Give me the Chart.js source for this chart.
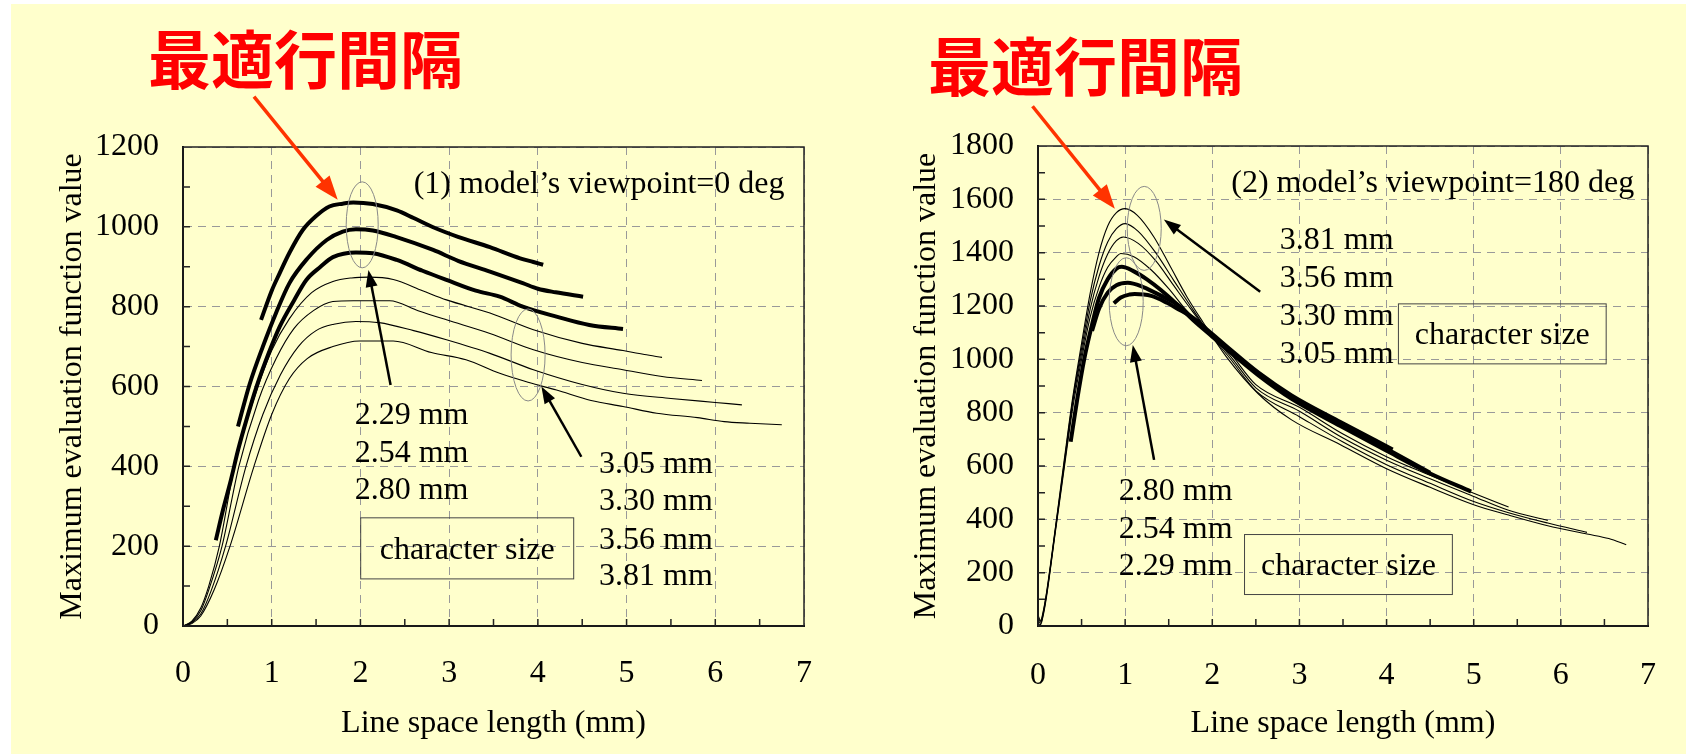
<!DOCTYPE html>
<html>
<head>
<meta charset="utf-8">
<script src="https://cdn.jsdelivr.net/npm/chart.js@4/dist/chart.umd.min.js"></script>
<style>
body { margin: 0; background: #fff; width: 1686px; height: 754px; position: relative; overflow: hidden; }
#bg { position: absolute; left: 11px; top: 4px; width: 1675px; height: 750px; background: #ffffcc; }
canvas { position: absolute; top: 0; }
.head { position: absolute; font: bold 63px "Noto Sans CJK JP"; color: #ff0000; line-height: 1; white-space: nowrap; }
</style>
</head>
<body>
<div id="bg"></div>
<canvas id="deg0" width="843" height="754" style="left:0"></canvas>
<canvas id="deg180" width="843" height="754" style="left:843px"></canvas>
<div class="head" style="left:148px;top:24px">最適行間隔</div>
<div class="head" style="left:928px;top:31px">最適行間隔</div>
<script>
// character sizes, thick lines = the three small sizes
const sizes = ['2.29 mm', '2.54 mm', '2.80 mm', '3.05 mm', '3.30 mm', '3.56 mm', '3.81 mm'];

// (1) viewpoint 0 deg : [line space (mm), max evaluation value]
const deg0_229 = [[0.88,767],[1.0,840],[1.09,884],[1.2,935],[1.35,992],[1.5,1027],[1.65,1051],[1.8,1058],[1.92,1061],[2.14,1057],[2.41,1041],[2.6,1022],[2.82,999],[3.1,975],[3.46,949],[3.8,921],[3.95,912],[4.06,905]];
const deg0_254 = [[0.62,500],[0.75,605],[0.9,700],[1.05,785],[1.2,859],[1.4,920],[1.62,967],[1.8,988],[1.95,994],[2.14,991],[2.4,975],[2.82,942],[3.1,915],[3.46,888],[3.83,859],[4.0,845],[4.2,836],[4.51,825]];
const deg0_280 = [[0.37,215],[0.45,290],[0.54,366],[0.62,440],[0.72,520],[0.83,600],[0.96,680],[1.09,750],[1.25,815],[1.39,867],[1.55,900],[1.69,924],[1.95,936],[2.14,934],[2.41,917],[2.7,890],[2.97,867],[3.3,840],[3.57,825],[3.83,800],[4.21,775],[4.58,754],[4.96,744]];
const deg0_305 = [[0,0],[0.1,12],[0.2,45],[0.29,100],[0.41,200],[0.58,400],[0.8,570],[1.0,690],[1.2,770],[1.45,835],[1.69,863],[1.9,872],[2.1,874],[2.37,868],[2.7,840],[2.97,817],[3.46,784],[3.95,742],[4.5,708],[4.96,690],[5.2,680],[5.4,673]];
const deg0_330 = [[0,0],[0.1,10],[0.2,38],[0.29,90],[0.44,200],[0.63,400],[0.85,565],[1.05,670],[1.25,745],[1.47,790],[1.69,813],[1.92,815],[2.33,815],[2.65,790],[2.97,767],[3.46,733],[3.95,692],[4.5,660],[4.96,642],[5.4,625],[5.85,615]];
const deg0_356 = [[0,0],[0.1,8],[0.2,30],[0.32,90],[0.48,200],[0.71,400],[0.9,530],[1.1,630],[1.3,700],[1.5,740],[1.7,756],[1.95,763],[2.21,760],[2.6,740],[2.97,717],[3.46,683],[3.95,642],[4.5,605],[4.96,583],[5.5,570],[6.0,560],[6.3,554]];
const deg0_381 = [[0,0],[0.1,6],[0.2,25],[0.35,90],[0.53,200],[0.8,400],[1.0,530],[1.2,620],[1.4,670],[1.69,700],[1.99,714],[2.37,714],[2.8,685],[3.19,667],[3.57,633],[3.9,610],[4.21,591],[4.6,565],[4.96,550],[5.34,533],[5.8,522],[6.1,512],[6.39,508],[6.75,504]];

// (2) viewpoint 180 deg
const deg180_229 = [[0.87,1210],[0.95,1232],[1.05,1243],[1.11,1245],[1.3,1238],[1.48,1212],[1.6,1190],[1.78,1155],[2.0,1095],[2.16,1050],[2.53,950],[2.91,865],[3.47,765],[4.07,662]];
const deg180_254 = [[0.62,1107],[0.7,1190],[0.8,1250],[0.9,1278],[1.03,1287],[1.2,1272],[1.45,1232],[1.6,1205],[1.78,1152],[2.0,1090],[2.16,1045],[2.53,945],[2.91,858],[3.47,757],[4.0,665],[4.5,575]];
const deg180_280 = [[0.375,691],[0.45,850],[0.53,1000],[0.62,1130],[0.7,1230],[0.8,1300],[0.9,1340],[0.96,1347],[1.1,1330],[1.25,1300],[1.41,1260],[1.6,1205],[1.78,1147],[2.0,1085],[2.16,1040],[2.53,940],[2.91,852],[3.47,750],[4.0,657],[4.5,572],[4.97,504]];
const deg180_305 = [[0,10],[0.03,5],[0.06,40],[0.1,115],[0.2,355],[0.3,590],[0.4,820],[0.5,1000],[0.6,1160],[0.7,1270],[0.8,1345],[0.9,1385],[0.95,1397],[1.1,1385],[1.3,1335],[1.5,1265],[1.7,1185],[1.95,1105],[2.2,1025],[2.5,905],[3.0,820],[3.5,720],[4.0,635],[4.5,565],[5.0,498],[5.4,446]];
const deg180_330 = [[0,20],[0.03,10],[0.06,45],[0.1,120],[0.2,360],[0.3,600],[0.4,840],[0.5,1020],[0.6,1190],[0.7,1310],[0.8,1395],[0.9,1445],[0.98,1459],[1.15,1435],[1.35,1370],[1.55,1280],[1.75,1190],[1.95,1105],[2.2,1015],[2.5,893],[3.0,805],[3.5,705],[4.0,622],[4.5,552],[5.0,486],[5.4,434],[5.85,396]];
const deg180_356 = [[0,30],[0.03,15],[0.06,50],[0.1,125],[0.2,365],[0.3,610],[0.4,850],[0.5,1040],[0.6,1220],[0.7,1350],[0.8,1440],[0.9,1490],[1.0,1509],[1.15,1480],[1.35,1400],[1.55,1300],[1.75,1200],[1.95,1105],[2.2,1005],[2.5,882],[3.0,785],[3.5,690],[4.0,605],[4.5,535],[5.0,467],[5.4,425],[5.85,386],[6.3,351]];
const deg180_381 = [[0,40],[0.03,20],[0.06,55],[0.1,130],[0.2,370],[0.3,620],[0.4,860],[0.5,1060],[0.6,1250],[0.7,1400],[0.8,1500],[0.9,1550],[1.0,1565],[1.14,1540],[1.33,1459],[1.52,1347],[1.71,1234],[1.89,1141],[2.16,1010],[2.53,870],[2.91,773],[3.47,680],[4.0,590],[4.5,520],[5.0,455],[5.4,416],[5.85,376],[6.3,345],[6.55,328],[6.75,305]];

const serif = 'Liberation Serif';
const fs = 32;
Chart.defaults.font.family = serif;
Chart.defaults.color = '#000';

function arrow(ctx, x1, y1, x2, y2, color, width, len, half) {
    const a = Math.atan2(y2 - y1, x2 - x1);
    ctx.strokeStyle = color; ctx.fillStyle = color; ctx.lineWidth = width;
    ctx.beginPath();
    ctx.moveTo(x1, y1);
    ctx.lineTo(x2 - Math.cos(a) * len * 0.8, y2 - Math.sin(a) * len * 0.8);
    ctx.stroke();
    ctx.beginPath();
    ctx.moveTo(x2, y2);
    ctx.lineTo(x2 - Math.cos(a) * len - Math.sin(a) * half, y2 - Math.sin(a) * len + Math.cos(a) * half);
    ctx.lineTo(x2 - Math.cos(a) * len + Math.sin(a) * half, y2 - Math.sin(a) * len - Math.cos(a) * half);
    ctx.closePath();
    ctx.fill();
}

// frame, minor ticks and the notes on the plot
const decorate = {
    id: 'decorate',
    afterDatasetsDraw(chart, args, opts) {
        const { ctx, chartArea: a, scales: { x, y } } = chart;
        const px = v => x.getPixelForValue(v), py = v => y.getPixelForValue(v);
        ctx.save();
        ctx.strokeStyle = '#222'; ctx.lineWidth = 1.5;
        ctx.strokeRect(a.left, a.top, a.right - a.left, a.bottom - a.top);
        ctx.beginPath();
        for (let v = 0.5; v < x.max; v += 0.5) { ctx.moveTo(px(v), a.bottom); ctx.lineTo(px(v), a.bottom - 7); }
        for (let v = 100; v < y.max; v += 100) { ctx.moveTo(a.left, py(v)); ctx.lineTo(a.left + 7, py(v)); }
        ctx.stroke();

        ctx.strokeStyle = '#888'; ctx.lineWidth = 1;
        opts.ellipses.forEach(([cx, cy, rx, ry]) => {
            ctx.beginPath(); ctx.ellipse(px(cx), py(cy), rx, ry, 0, 0, Math.PI * 2); ctx.stroke();
        });
        opts.arrows.forEach(([x1, y1, x2, y2]) => arrow(ctx, px(x1), py(y1), px(x2), py(y2), '#000', 2.5, 17, 6));
        const r = opts.redArrow;
        arrow(ctx, px(r[0]), py(r[1]), px(r[2]), py(r[3]), '#ff3300', 3.5, 24, 9);

        ctx.font = `${fs}px "${serif}"`;
        ctx.fillStyle = '#000';
        ctx.textBaseline = 'middle';
        ctx.textAlign = 'left';
        ctx.fillText(opts.caption[0], px(opts.caption[1]), py(opts.caption[2]));
        opts.labels.forEach(([t, lx, ly]) => ctx.fillText(t, px(lx), py(ly)));
        ctx.strokeStyle = '#444'; ctx.lineWidth = 1;
        ctx.textAlign = 'center';
        opts.boxes.forEach(([x1, y1, x2, y2]) => {
            ctx.strokeRect(px(x1), py(y1), px(x2) - px(x1), py(y2) - py(y1));
            ctx.fillText('character size', (px(x1) + px(x2)) / 2, (py(y1) + py(y2)) / 2 + 2);
        });
        ctx.restore();
    }
};

function makeChart(id, series, yMax, box, notes) {
    new Chart(document.getElementById(id), {
        type: 'line',
        data: {
            datasets: series.map((pts, i) => ({
                label: sizes[i],
                data: pts.map(([x, y]) => ({ x, y })),
                borderColor: '#000',
                borderWidth: i < 3 ? 4 : 1.1,
                pointRadius: 0,
                cubicInterpolationMode: 'monotone'
            }))
        },
        options: {
            responsive: false,
            animation: false,
            layout: { padding: { left: 0, top: box.top, right: box.right, bottom: 0 } },
            plugins: { legend: { display: false }, tooltip: { enabled: false }, decorate: notes },
            scales: {
                x: {
                    type: 'linear', min: 0, max: 7,
                    ticks: { stepSize: 1, padding: box.xTickPad, font: { size: fs } },
                    grid: { color: '#999', lineWidth: 1, drawTicks: false },
                    border: { display: true, color: '#000', width: 2, dash: [8, 6] },
                    title: { display: true, text: 'Line space length (mm)', font: { size: fs }, padding: { top: 0, bottom: 11 } },
                    afterFit: s => { s.height = 128; }
                },
                y: {
                    min: 0, max: yMax,
                    ticks: { stepSize: 200, padding: 24, font: { size: fs }, callback: v => String(v) },
                    grid: { color: '#999', lineWidth: 1, drawTicks: false },
                    border: { display: true, color: '#000', width: 2, dash: [8, 6] },
                    title: { display: true, text: 'Maximum evaluation function value', font: { size: fs }, padding: { top: box.yTitlePad, bottom: 0 } },
                    afterFit: s => { s.width = box.yWidth; }
                }
            }
        },
        plugins: [decorate]
    });
}

makeChart('deg0', [deg0_229, deg0_254, deg0_280, deg0_305, deg0_330, deg0_356, deg0_381], 1200,
    { top: 147, right: 39, yWidth: 183, yTitlePad: 53, xTickPad: 28 },
    {
        caption: ['(1) model’s viewpoint=0 deg', 2.6, 1105],
        ellipses: [[2.02, 1005, 16, 43], [3.89, 679, 17, 46]],
        arrows: [[2.34, 604, 2.09, 892], [4.49, 424, 4.04, 600]],
        redArrow: [0.80, 1326, 1.744, 1068],
        labels: [['2.29 mm', 1.935, 526], ['2.54 mm', 1.935, 431], ['2.80 mm', 1.935, 338],
                 ['3.05 mm', 4.69, 404], ['3.30 mm', 4.69, 311], ['3.56 mm', 4.69, 213], ['3.81 mm', 4.69, 123]],
        boxes: [[2.003, 271, 4.404, 118]]
    });

makeChart('deg180', [deg180_229, deg180_254, deg180_280, deg180_305, deg180_330, deg180_356, deg180_381], 1800,
    { top: 146, right: 26, yWidth: 195, yTitlePad: 64, xTickPad: 30 },
    {
        caption: ['(2) model’s viewpoint=180 deg', 2.218, 1660],
        ellipses: [[1.219, 1491, 17, 42], [1.012, 1216, 17, 44]],
        arrows: [[2.55, 1253, 1.444, 1524], [1.332, 623, 1.088, 1054]],
        redArrow: [-0.063, 1949, 0.882, 1565],
        labels: [['3.81 mm', 2.775, 1447], ['3.56 mm', 2.775, 1301], ['3.30 mm', 2.775, 1159], ['3.05 mm', 2.775, 1016],
                 ['2.80 mm', 0.927, 504], ['2.54 mm', 0.927, 361], ['2.29 mm', 0.927, 223]],
        boxes: [[4.136, 1208, 6.52, 983], [2.37, 343, 4.755, 118]]
    });
</script>
</body>
</html>
